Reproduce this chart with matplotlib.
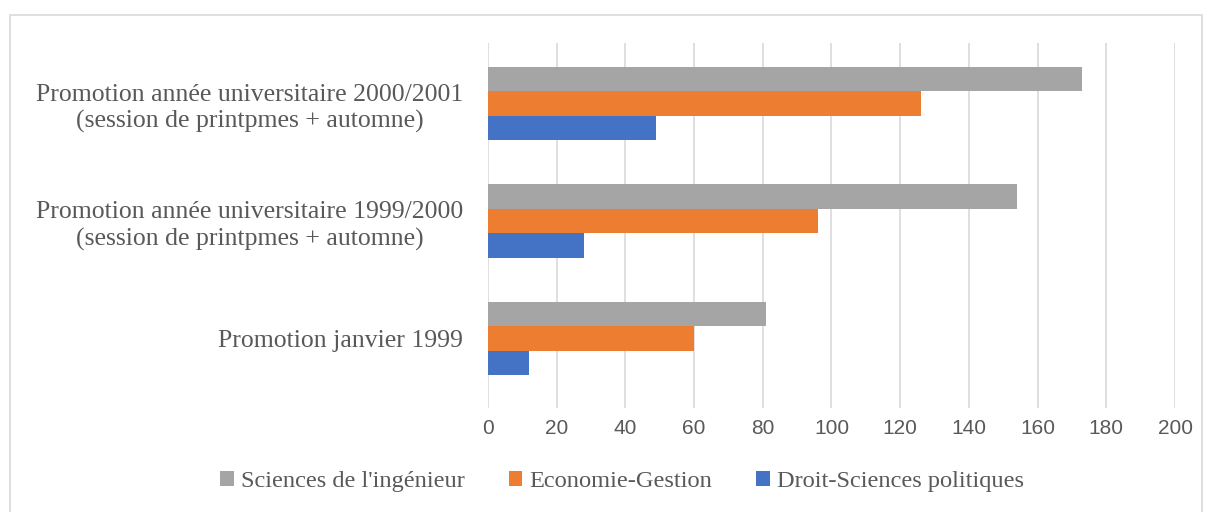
import matplotlib.pyplot as plt
from matplotlib.patches import Rectangle
import numpy as np

categories = ["Promotion janvier 1999",
              "Promotion année universitaire 1999/2000\n(session de printpmes + automne)",
              "Promotion année universitaire 2000/2001\n(session de printpmes + automne)"]
series_names = ["Sciences de l'ingénieur", "Economie-Gestion", "Droit-Sciences politiques"]
sciences = [81, 154, 173]
economie = [60, 96, 126]
droit = [12, 28, 49]
colors = ["#A5A5A5", "#ED7D31", "#4472C4"]
xticks = [0, 20, 40, 60, 80, 100, 120, 140, 160, 180, 200]

txt = "#595959"
serif = ["Liberation Serif", "DejaVu Serif"]
sans = ["Liberation Sans Narrow", "Liberation Sans", "DejaVu Sans"]

fig = plt.figure(figsize=(12.06, 5.12), dpi=100)
ax = fig.add_axes([0.4046, 0.203, 0.5697, 0.713])

y = np.arange(len(categories))
h = 0.208
for i, (vals, name) in enumerate(zip([sciences, economie, droit], series_names)):
    ax.barh(y + (1 - i) * h, vals, height=h, color=colors[i], label=name, zorder=3)

ax.set_xlim(0, 200)
ax.set_ylim(-0.59, 2.515)
ax.set_xticks(xticks)
ax.set_xticklabels([str(t) for t in xticks], family=sans, fontsize=15, color=txt)
ax.set_yticks(y)
ax.set_yticklabels(categories, family=serif, fontsize=18.5, color=txt,
                   ha="right", multialignment="center", linespacing=1.25)
ax.tick_params(axis="y", length=0, pad=18)
ax.tick_params(axis="x", length=0, pad=8)
ax.grid(axis="x", color="#D9D9D9", linewidth=1.2, zorder=0)
for s in ax.spines.values():
    s.set_visible(False)

leg = fig.legend(loc="center", bbox_to_anchor=(0.516, 0.06), ncol=3, frameon=False,
                 handlelength=0.55, handleheight=0.55, handletextpad=0.3, columnspacing=1.8,
                 prop={"family": serif, "size": 17.6})
for t in leg.get_texts():
    t.set_color(txt)

fig.patches.append(Rectangle((0.008, -0.05), 0.989, 1.02, transform=fig.transFigure,
                             fill=False, edgecolor="#D9D9D9", linewidth=1.2))

fig.savefig("out.png", dpi=100, facecolor="white")
